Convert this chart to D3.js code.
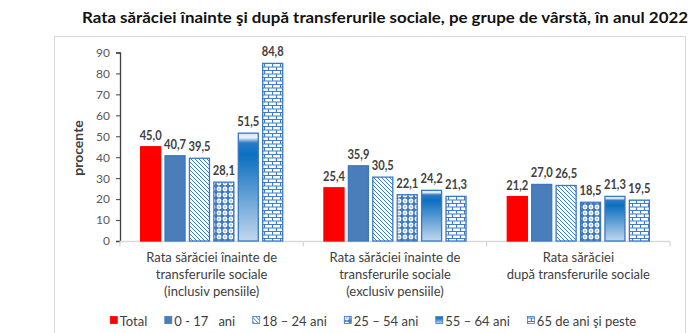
<!DOCTYPE html>
<html>
<head>
<meta charset="utf-8">
<title>Rata sărăciei</title>
<style>
    body {
        margin: 0;
        background: white;
        font-family: Lato, "Open Sans", sans-serif;
    }
    svg text {
        white-space: pre;
    }
</style>
</head>
<body>
<svg id="chart" width="700" height="333"></svg>
<script src="https://d3js.org/d3.v7.min.js"></script>
<script>
var title = "Rata sărăciei înainte şi după transferurile sociale, pe grupe de vârstă, în anul 2022";

// categorii (rânduri de etichetă pe axa X)
var categories = ["inclusiv", "exclusiv", "dupa"];
var categoryLines = [
    ["Rata sărăciei înainte de", "transferurile sociale", "(inclusiv pensiile)"],
    ["Rata sărăciei înainte de", "transferurile sociale", "(exclusiv pensiile)"],
    ["Rata sărăciei", "după transferurile sociale"]
];

var series = ["Total", "0 - 17   ani", "18 – 24 ani", "25 – 54 ani", "55 – 64 ani", "65 de ani şi peste"];

var valTotal = [45.0, 25.4, 21.2];
var val0_17 = [40.7, 35.9, 27.0];
var val18_24 = [39.5, 30.5, 26.5];
var val25_54 = [28.1, 22.1, 18.5];
var val55_64 = [51.5, 24.2, 21.3];
var val65 = [84.8, 21.3, 19.5];

var yTicks = [0, 10, 20, 30, 40, 50, 60, 70, 80, 90];

var allValues = [valTotal, val0_17, val18_24, val25_54, val55_64, val65];
var fills = ["#ff0000", "#4a7ebb", "url(#diag)", "url(#dots)", "url(#grad)", "url(#brick)"];
var strokes = ["#ff0000", "#3a78c2", "#3a78c2", "#3a78c2", "#3a78c2", "#3a78c2"];

var svg = d3.select("#chart");
var blue = "#3f7cc4";

// ---- modele de umplere ----
var defs = svg.append("defs");

var diag = defs.append("pattern").attr("id", "diag")
    .attr("patternUnits", "userSpaceOnUse").attr("width", 4).attr("height", 4);
diag.append("rect").attr("width", 4).attr("height", 4).attr("fill", "white");
diag.append("path").attr("d", "M-1,-1 L5,5 M3,-1 L5,1 M-1,3 L1,5")
    .attr("stroke", blue).attr("stroke-width", 1);

var dots = defs.append("pattern").attr("id", "dots")
    .attr("patternUnits", "userSpaceOnUse").attr("width", 6).attr("height", 6);
dots.append("rect").attr("width", 6).attr("height", 6).attr("fill", blue);
dots.append("circle").attr("cx", 3).attr("cy", 3).attr("r", 2.4).attr("fill", "white");
dots.append("circle").attr("cx", 3).attr("cy", 3).attr("r", 0.7).attr("fill", blue);

var brick = defs.append("pattern").attr("id", "brick")
    .attr("patternUnits", "userSpaceOnUse").attr("width", 8).attr("height", 7);
brick.append("rect").attr("width", 8).attr("height", 7).attr("fill", "white");
brick.append("path")
    .attr("d", "M0,0.5 H8 M0,4 H8 M0.5,0.5 V4 M4.5,4 V7")
    .attr("stroke", blue).attr("stroke-width", 1.2).attr("fill", "none");

var grad = defs.append("linearGradient").attr("id", "grad")
    .attr("x1", 0).attr("y1", 0).attr("x2", 0).attr("y2", 1);
[[0, "#cfe0f3"], [0.04, "#eef4fb"], [0.09, "#2a7cc8"], [0.2, "#0b6fc0"], [1, "#c3d7ee"]]
    .forEach(function(s) {
        grad.append("stop").attr("offset", s[0]).attr("stop-color", s[1]);
    });

// ---- chenarul graficului ----
svg.append("rect")
    .attr("x", 54.5).attr("y", 36.5).attr("width", 631).attr("height", 310)
    .attr("fill", "white").attr("stroke", "#d9d9d9");

svg.append("text")
    .attr("x", 385).attr("y", 23)
    .attr("text-anchor", "middle")
    .attr("font-size", 16).attr("font-weight", "bold").attr("fill", "#111")
    .attr("textLength", 606).attr("lengthAdjust", "spacingAndGlyphs")
    .text(title);

// ---- scale ----
var y = d3.scaleLinear().domain([0, 90]).range([241, 52.5]);
var x0 = d3.scaleBand().domain(categories).range([120, 670]).padding(0);
var x1 = d3.scaleBand().domain(series).range([0, x0.bandwidth()])
    .paddingInner(0.18).paddingOuter(0.845);

// axa Y
var yAxis = svg.append("g")
    .attr("transform", "translate(120,0)")
    .call(d3.axisLeft(y).tickValues(yTicks).tickSize(4).tickPadding(6));
yAxis.select(".domain").attr("stroke", "#404040").attr("stroke-width", 1.3);
yAxis.selectAll(".tick line").attr("stroke", "#404040");
yAxis.selectAll(".tick text")
    .attr("fill", "#595959").attr("font-size", 12)
    .attr("font-family", "Lato, sans-serif");

svg.append("text")
    .attr("transform", "translate(83,148) rotate(-90)")
    .attr("text-anchor", "middle")
    .attr("font-size", 14).attr("font-weight", "bold").attr("fill", "#404040")
    .text("procente");

// axa X: linie de bază şi separatoare
svg.append("line")
    .attr("x1", 120).attr("x2", 670).attr("y1", 241.5).attr("y2", 241.5)
    .attr("stroke", "#d9d9d9").attr("stroke-width", 1.3);
var seps = [x0.range()[0]].concat(categories.map(function(c) { return x0(c) + x0.bandwidth(); }));
svg.selectAll(".sep").data(seps).enter().append("line")
    .attr("x1", function(d) { return d; }).attr("x2", function(d) { return d; })
    .attr("y1", 241.5).attr("y2", 246.5)
    .attr("stroke", "#d9d9d9").attr("stroke-width", 1.3);

// etichete categorii
var catLabel = svg.selectAll(".cat").data(categories).enter().append("text")
    .attr("text-anchor", "middle")
    .attr("font-size", 13).attr("fill", "#404040")
    .attr("x", function(d) { return x0(d) + x0.bandwidth() / 2; })
    .attr("y", 262);
catLabel.selectAll("tspan").data(function(d, i) { return categoryLines[i]; }).enter().append("tspan")
    .attr("x", function() { return d3.select(this.parentNode).attr("x"); })
    .attr("dy", function(d, i) { return i === 0 ? 0 : 17; })
    .text(function(d) { return d; });

// ---- bare ----
var rows = [];
categories.forEach(function(c, ci) {
    series.forEach(function(s, si) {
        rows.push({ cat: c, s: s, si: si, v: allValues[si][ci] });
    });
});

svg.selectAll(".bar").data(rows).enter().append("rect")
    .attr("x", function(d) { return x0(d.cat) + x1(d.s); })
    .attr("y", function(d) { return y(d.v); })
    .attr("width", x1.bandwidth())
    .attr("height", function(d) { return y(0) - y(d.v); })
    .attr("fill", function(d) { return fills[d.si]; })
    .attr("stroke", function(d) { return strokes[d.si]; })
    .attr("stroke-width", 1.3);

// etichete de valoare, înguste ca să încapă deasupra barelor vecine
svg.selectAll(".lbl").data(rows).enter().append("text")
    .attr("x", function(d) { return x0(d.cat) + x1(d.s) + x1.bandwidth() / 2; })
    .attr("y", function(d) { return y(d.v) - 7; })
    .attr("text-anchor", "middle")
    .attr("font-size", 13.5).attr("font-weight", "bold").attr("fill", "#404040")
    .attr("textLength", 22).attr("lengthAdjust", "spacingAndGlyphs")
    .text(function(d) { return d.v.toFixed(1).replace(".", ","); });

// ---- legenda ----
var legend = svg.append("g");
var cursor = 0;
series.forEach(function(s, i) {
    var g = legend.append("g").attr("transform", "translate(" + cursor + ",0)");
    g.append("rect").attr("x", 0.5).attr("y", -4.5).attr("width", 7).attr("height", 7)
        .attr("fill", fills[i]).attr("stroke", strokes[i]).attr("stroke-width", 0.8);
    var t = g.append("text").attr("x", 10).attr("y", 4.5)
        .attr("font-size", 13).attr("fill", "#404040")
        .text(s);
    cursor += 10 + t.node().getComputedTextLength() + 17;
});
var legendWidth = cursor - 17;
legend.attr("transform", "translate(" + (373 - legendWidth / 2) + ",321)");
</script>
</body>
</html>
